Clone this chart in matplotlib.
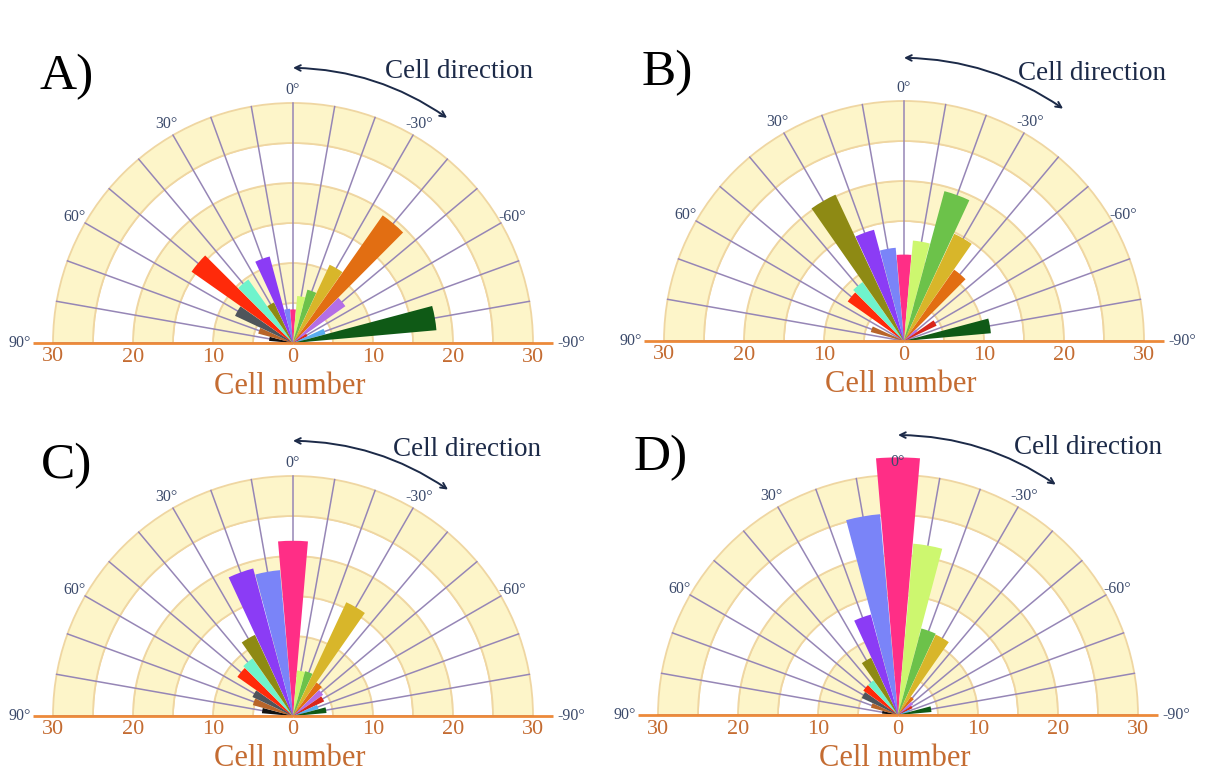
import matplotlib
matplotlib.use('Agg')
import matplotlib.pyplot as plt
import numpy as np

plt.rcParams['font.family'] = ['Liberation Serif', 'DejaVu Serif']

# bin centres (degrees), +90 on the left, -90 on the right
angles = [90, 80, 70, 60, 50, 40, 30, 20, 10, 0,
          -10, -20, -30, -40, -50, -60, -70, -80, -90]

bin_colors = ['#333333', '#111111', '#b8652a', '#4f555b', '#ff2a0a',
              '#6ff3cc', '#8e8a14', '#8b3cf5', '#7a84f8', '#ff2e86',
              '#cdf76f', '#6cc24a', '#d8b62a', '#e26e12', '#b46ee6',
              '#d9261c', '#5aaef0', '#0f5a16', '#333333']

# cell counts per direction bin
counts_a = [0, 3, 4.5, 8, 15.5, 9.7, 5.6, 11.2, 4.3, 4.2,
            5.9, 6.9, 10.8, 19.5, 8, 2, 4.2, 18, 0]
counts_b = [0, 0, 4.3, 0, 8.6, 9, 20.2, 14.4, 11.7, 10.8,
            12.6, 19.4, 14.8, 10.9, 2, 4.5, 0, 10.9, 0]
counts_c = [0, 3.9, 5.2, 5.6, 8.5, 8.8, 11.2, 19.1, 18.3, 21.9,
            5.7, 5.8, 15.7, 5.1, 4.6, 4.3, 3.3, 4.2, 0]
counts_d = [0, 2, 3.5, 5, 5.3, 5.3, 7.9, 13, 25.2, 32.2,
            21.5, 11.2, 11.1, 2.8, 2.3, 2, 1.5, 4.2, 0]

panels = [
    # letter, counts, centre px (x, y from top), letter offset, text offset, arrow r
    ('A)', counts_a, (293, 343), (-226, 266), (166, 272), (34.4, 34.1)),
    ('B)', counts_b, (904, 341), (-237, 268), (188, 268), (35.4, 35.2)),
    ('C)', counts_c, (293, 716), (-226, 250), (174, 266), (34.4, 34.3)),
    ('D)', counts_d, (898, 715), (-237, 257), (190, 267), (35.0, 34.9)),
]

W, H = 1213, 778
PX = 8.0          # pixels per cell
RMAX = 37

yellow = '#fdf5c9'
tan = '#efd6a2'
spoke = '#9686b6'
orange = '#ec8a3a'
brown_txt = '#c46c32'
navy = '#3b4a6b'
dark = '#1c2a48'

fig = plt.figure(figsize=(W / 100, H / 100), dpi=100)
fig.patch.set_facecolor('white')

for letter, counts, (cx, cy), loff, toff, (r_left, r_right) in panels:
    half = RMAX * PX
    ax = fig.add_axes([(cx - half) / W, (H - cy - half) / H,
                       2 * half / W, 2 * half / H], projection='polar')
    ax.set_theta_zero_location('N')
    ax.set_theta_direction(1)
    ax.set_ylim(0, RMAX)
    ax.patch.set_visible(False)
    ax.grid(False)
    ax.set_xticks([])
    ax.set_yticks([])
    for s in ax.spines.values():
        s.set_visible(False)

    # alternating rings
    for r0 in [0, 5, 10, 15, 20, 25]:
        fc = yellow if (r0 // 5) % 2 == 1 else 'white'
        ax.bar(0, 5, width=np.pi, bottom=r0, color=fc, edgecolor=tan,
               linewidth=1.3, zorder=1)

    # spokes every 10 degrees
    for a in range(-90, 91, 10):
        t = np.deg2rad(a)
        ax.plot([t, t], [0, 30], color=spoke, lw=1.1, zorder=2)

    # data bars
    ax.bar(np.deg2rad(angles), counts, width=np.deg2rad(9.8),
           color=bin_colors, edgecolor='none', zorder=3)

    # baseline
    for t in [np.pi / 2, -np.pi / 2]:
        ax.plot([t, t], [0, 32.5], color=orange, lw=2, zorder=4,
                solid_capstyle='butt')

    # radial tick labels
    for v in [30, 20, 10]:
        for t in [np.pi / 2, -np.pi / 2]:
            ax.annotate(str(v), xy=(t, v), xytext=(0, -14),
                        textcoords='offset pixels', ha='center', va='center',
                        fontsize=16, color=brown_txt, zorder=5)
    ax.annotate('0', xy=(0, 0), xytext=(0, -14), textcoords='offset pixels',
                ha='center', va='center', fontsize=16, color=brown_txt)

    # angle labels
    for a in [60, 30, 0, -30, -60]:
        ax.text(np.deg2rad(a), 31.6, '%d°' % a, ha='center', va='center',
                fontsize=11.5, color=navy)
    ax.text(np.pi / 2, 32.8, '90°', ha='right', va='center',
            fontsize=11.5, color=navy)
    ax.text(-np.pi / 2, 33.0, '-90°', ha='left', va='center',
            fontsize=11.5, color=navy)

    ax.annotate('Cell number', xy=(0, 0), xytext=(-3, -43),
                textcoords='offset pixels', ha='center', va='center',
                fontsize=22, color=brown_txt)
    ax.annotate(letter, xy=(0, 0), xytext=loff, textcoords='offset pixels',
                ha='center', va='center', fontsize=37, color='black')
    ax.annotate('Cell direction', xy=(0, 0), xytext=toff,
                textcoords='offset pixels', ha='center', va='center',
                fontsize=19.5, color=dark)

    ax.annotate('', xy=(0, r_left), xytext=(np.deg2rad(-34.4), r_right),
                arrowprops=dict(arrowstyle='<->', color=dark, lw=1.4,
                                connectionstyle='arc3,rad=0.15',
                                shrinkA=0, shrinkB=0))

fig.savefig('out.png', dpi=100)
